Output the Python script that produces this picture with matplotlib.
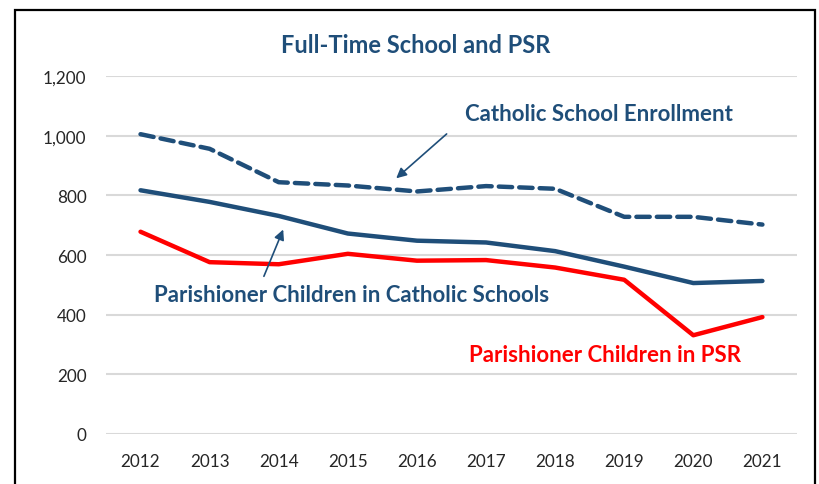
import matplotlib.pyplot as plt
from matplotlib.patches import Rectangle

years = ["2012", "2013", "2014", "2015", "2016", "2017", "2018", "2019", "2020", "2021"]
school_enrollment = [1005, 956, 844, 833, 813, 831, 822, 728, 728, 702]
parish_in_school = [817, 778, 731, 672, 648, 642, 613, 561, 506, 513]
parish_in_psr = [678, 576, 569, 604, 581, 583, 558, 517, 331, 392]
y_ticks = [0, 200, 400, 600, 800, 1000, 1200]

navy = "#1F4E79"
red = "#FF0000"
plt.rcParams["font.family"] = ["Lato", "DejaVu Sans"]

fig = plt.figure(figsize=(8.19, 4.85), dpi=100)
ax = fig.add_axes([0.1294, 0.1031, 0.8437, 0.7381])

x = list(range(len(years)))
ax.plot(x, school_enrollment, color=navy, lw=3.2, linestyle=(0, (3.0, 1.6)),
        dash_capstyle="round")
ax.plot(x, parish_in_school, color=navy, lw=3.2, solid_capstyle="round")
ax.plot(x, parish_in_psr, color=red, lw=3.2, solid_capstyle="round")

ax.set_xlim(-0.5, len(years) - 0.5)
ax.set_ylim(0, 1200)
ax.set_xticks(x)
ax.set_xticklabels(years)
ax.set_yticks(y_ticks)
ax.set_yticklabels([f"{v:,}" for v in y_ticks])
ax.tick_params(length=0, labelsize=12.3, labelcolor="#262626")
ax.tick_params(axis="y", pad=14)
ax.tick_params(axis="x", pad=14)
ax.grid(axis="y", color="#D9D9D9", lw=1.5)
ax.set_axisbelow(True)
for s in ax.spines.values():
    s.set_visible(False)

# labels and arrows
ax.text(6.63, 1076, "Catholic School Enrollment", color=navy, fontsize=16,
        fontweight="bold", ha="center", va="center")
ax.annotate("", xy=(3.67, 851), xytext=(4.46, 1012),
            arrowprops=dict(arrowstyle="-|>", color=navy, lw=1.2, mutation_scale=15))
ax.text(3.06, 466, "Parishioner Children in Catholic Schools", color=navy, fontsize=16,
        fontweight="bold", ha="center", va="center")
ax.annotate("", xy=(2.08, 694), xytext=(1.77, 520),
            arrowprops=dict(arrowstyle="-|>", color=navy, lw=1.2, mutation_scale=15))
ax.text(6.72, 265, "Parishioner Children in PSR", color=red, fontsize=16,
        fontweight="bold", ha="center", va="center")

fig.text(0.507, 0.907, "Full-Time School and PSR", color=navy, fontsize=17,
         fontweight="bold", ha="center", va="center")

# chart border
fig.patches.append(Rectangle((15 / 819, -0.05), 800 / 819, 1.05 - 11 / 485,
                             transform=fig.transFigure, fill=False,
                             edgecolor="black", lw=1.6))

fig.savefig("out.png", dpi=100)
